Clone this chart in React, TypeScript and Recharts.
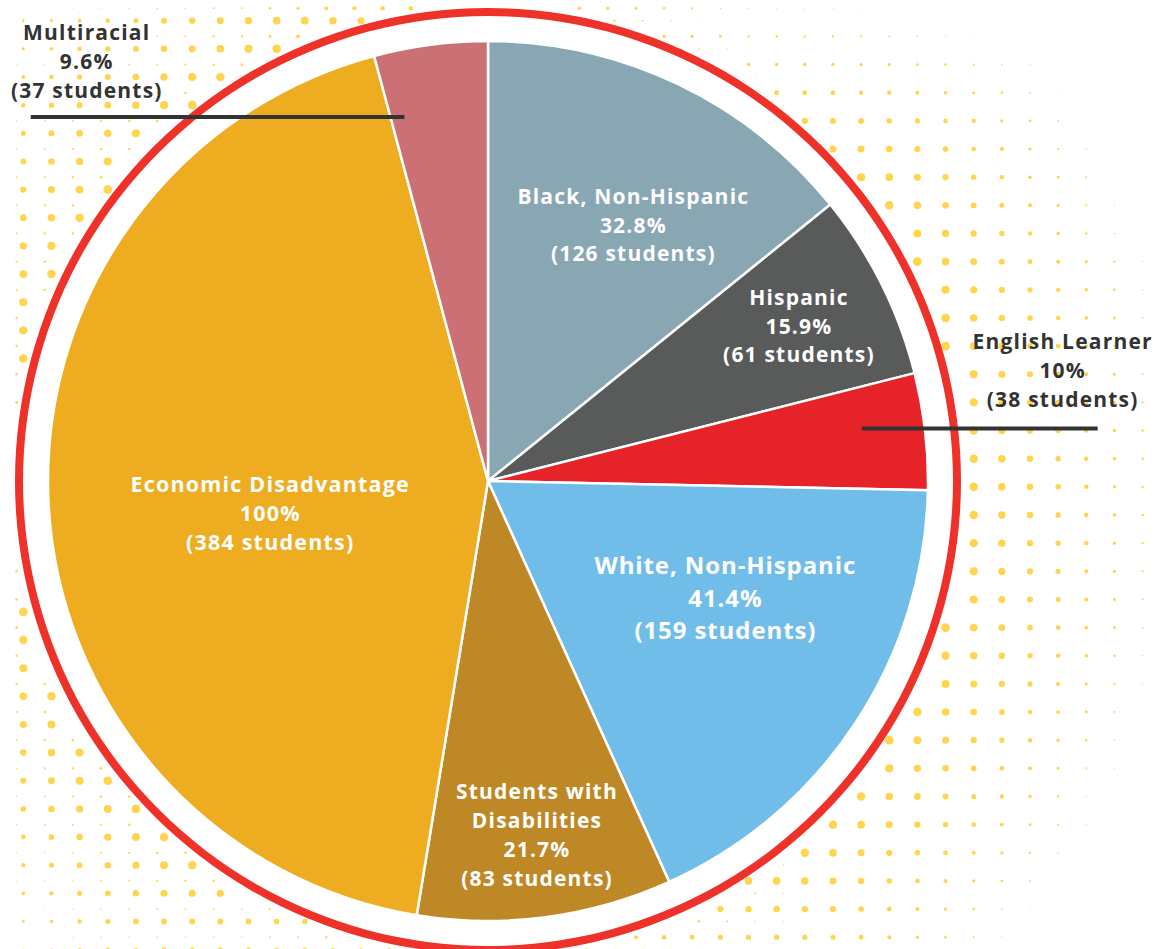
import React from 'react';
import { PieChart, Pie, Cell } from 'recharts';

const groups = [
  'Black, Non-Hispanic',
  'Hispanic',
  'English Learner',
  'White, Non-Hispanic',
  'Students with Disabilities',
  'Economic Disadvantage',
  'Multiracial',
];
const students = [126, 61, 38, 159, 83, 384, 37];
const shares = ['32.8%', '15.9%', '10%', '41.4%', '21.7%', '100%', '9.6%'];

const colors = ['#89A7B2', '#595B5A', '#E52329', '#71BDE9', '#BE8826', '#EEAC21', '#CB7075'];

// label placement: distance as a share of the radius, extra turn in degrees
const labelSpots = [
  { ratio: 0.67, turn: -4, size: 21, gap: 28.5, dark: false, wrap: 0 },
  { ratio: 0.79, turn: 0, size: 21, gap: 28.5, dark: false, wrap: 0 },
  { ratio: 1.33, turn: 4.4, size: 21, gap: 29, dark: true, wrap: 0, leader: { dy: 58, inner: 0.85, outer: 35 } },
  { ratio: 0.6, turn: 7.5, size: 24, gap: 32.5, dark: false, wrap: 0 },
  { ratio: 0.81, turn: 0.4, size: 21, gap: 29, dark: false, wrap: 2 },
  { ratio: 0.5, turn: 5.3, size: 21.5, gap: 29, dark: false, wrap: 0 },
  { ratio: 1.32, turn: 36.2, size: 21, gap: 29, dark: true, wrap: 0, leader: { dy: 56, inner: -0.19, outer: -56 } },
];

const data = groups.map((name, i) => ({ name, value: students[i] }));
const ring = [{ name: 'ring', value: 1 }];

const W = 1167;
const H = 949;
const CX = 488;
const CY = 481;
const R = 440;
const RAD = Math.PI / 180;

const FONT = '"Open Sans", "DejaVu Sans", sans-serif';

const renderLabel = (props: any) => {
  const { cx, cy, midAngle, outerRadius, index } = props;
  const spot = labelSpots[index];
  const a = (midAngle + spot.turn) * RAD;
  const x = cx + outerRadius * spot.ratio * Math.cos(a);
  const y = cy - outerRadius * spot.ratio * Math.sin(a);
  const words = groups[index].split(' ');
  const nameLines = spot.wrap ? [words.slice(0, spot.wrap).join(' '), words.slice(spot.wrap).join(' ')] : [groups[index]];
  const lines = [...nameLines, shares[index], `(${students[index]} students)`];
  const y0 = y - ((lines.length - 1) * spot.gap) / 2;
  const fill = spot.dark ? '#333333' : '#FFFFFF';
  return (
    <g key={`lbl-${index}`}>
      <text
        x={x}
        y={y0}
        textAnchor="middle"
        dominantBaseline="central"
        fill={fill}
        fontFamily={FONT}
        fontWeight={700}
        fontSize={spot.size}
        letterSpacing={spot.size > 22 ? 0.9 : 1.2}
      >
        {lines.map((t, i) => (
          <tspan key={i} x={x} y={y0 + i * spot.gap}>
            {t}
          </tspan>
        ))}
      </text>
      {spot.leader && (
        <line
          x1={cx + outerRadius * spot.leader.inner}
          x2={x + spot.leader.outer}
          y1={y + spot.leader.dy}
          y2={y + spot.leader.dy}
          stroke="#333333"
          strokeWidth={4}
        />
      )}
    </g>
  );
};

// halftone backdrop behind the ring
const dotSize = (x: number, y: number) => {
  const dx = x - CX;
  const dy = CY - y;
  const d = Math.sqrt(dx * dx + dy * dy);
  if (d < 477) return 0;
  const th = Math.atan2(dy, dx);
  const tilt = dy >= 0 ? Math.abs(Math.cos(th + 15 * RAD)) : Math.abs(Math.cos(th));
  const a = 4.5 * Math.min(1, Math.max(0.42, 1.6 * tilt));
  return a - 0.018 * (d - 472);
};

const STEP = 28.15;

const Dots = () => {
  const dots: React.ReactElement[] = [];
  for (let i = 0; i < 42; i++) {
    for (let j = 0; j < 35; j++) {
      // grid A, strongest on the left
      const ax = 23.3 + i * STEP;
      const ay = 20.7 + j * STEP;
      const fa = ax < 500 ? 1 : Math.max(0, 1 - (ax - 500) / 350);
      const ra = dotSize(ax, ay) * fa;
      if (ra > 0.4) dots.push(<circle key={`a${i}-${j}`} cx={ax} cy={ay} r={ra} fill="#FFD44F" />);
      // grid B, strongest on the right
      const bx = 16.6 + i * STEP;
      const by = 8.3 + j * STEP;
      const fb = bx > 480 ? 1 : 0.3 + 0.7 * Math.max(0, (bx - 250) / 230);
      const rb = dotSize(bx, by) * fb;
      if (rb > 0.4) dots.push(<circle key={`b${i}-${j}`} cx={bx} cy={by} r={rb} fill="#FFD44F" />);
    }
  }
  return (
    <svg width={W} height={H} style={{ position: 'absolute', left: 0, top: 0, display: 'block' }}>
      {dots}
    </svg>
  );
};

export default function App() {
  return (
    <div style={{ position: 'absolute', left: 0, top: 0, width: W, height: H, background: '#fff', overflow: 'hidden' }}>
      <Dots />
      <div style={{ position: 'absolute', left: 0, top: 0 }}>
        <PieChart width={W} height={H} margin={{ top: 0, right: 0, bottom: 0, left: 0 }}>
          <Pie
            data={ring}
            dataKey="value"
            cx={CX}
            cy={CY}
            innerRadius={0}
            outerRadius={473}
            startAngle={90}
            endAngle={-270}
            fill="#FFFFFF"
            stroke="none"
            isAnimationActive={false}
          />
          <Pie
            data={ring}
            dataKey="value"
            cx={CX}
            cy={CY}
            innerRadius={465}
            outerRadius={473}
            startAngle={90}
            endAngle={-270}
            fill="#EE322A"
            stroke="none"
            isAnimationActive={false}
          />
          <Pie
            data={data}
            dataKey="value"
            nameKey="name"
            cx={CX}
            cy={CY}
            outerRadius={R}
            startAngle={90}
            endAngle={-270}
            stroke="#FFFFFF"
            strokeWidth={2.5}
            label={renderLabel}
            labelLine={false}
            isAnimationActive={false}
          >
            {data.map((d, i) => (
              <Cell key={d.name} fill={colors[i]} />
            ))}
          </Pie>
        </PieChart>
      </div>
    </div>
  );
}
